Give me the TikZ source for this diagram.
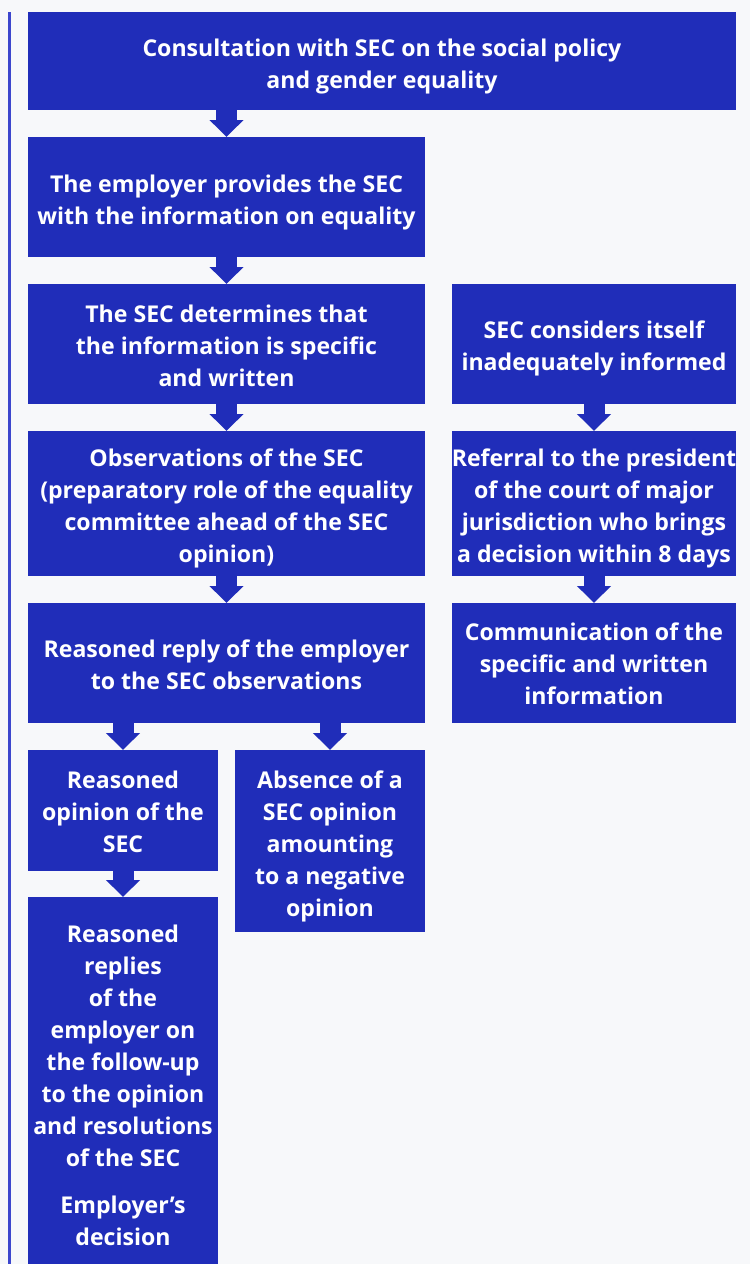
\documentclass[tikz,border=0pt]{standalone}
\usepackage{fontspec}
\setmainfont{Open Sans}
\usetikzlibrary{arrows.meta}
\definecolor{bgc}{RGB}{247,248,250}
\definecolor{boxc}{RGB}{32,45,185}
\definecolor{railc}{RGB}{60,70,205}
\tikzset{
  box/.style={fill=boxc, inner sep=0pt, outer sep=0pt},
  txt/.style={text=white, align=center, inner sep=0pt,
    font=\bfseries\fontsize{23.1}{32}\selectfont},
  flow/.style={draw=boxc, line width=21pt,
    -{Triangle[width=33pt,length=17pt]}}
}
\begin{document}
\begin{tikzpicture}[x=1pt,y=-1pt]
\fill[bgc] (0,0) rectangle (750,1264);
\useasboundingbox (0,0) rectangle (750,1264);
\fill[railc] (8,12) rectangle (11,1264);

\node[box, minimum width=708pt, minimum height=98pt,
  label={[txt,yshift=-5pt]center:{Consultation with SEC on the social policy\\and gender equality}}] (b1) at (382,61) {};
\node[box, minimum width=397pt, minimum height=120pt,
  label={[txt,yshift=-5pt]center:{The employer provides the SEC\\with the information on equality}}] (b2) at (226.5,197) {};
\node[box, minimum width=397pt, minimum height=120pt,
  label={[txt,yshift=-2pt]center:{The SEC determines that\\the information is specific\\and written}}] (b3) at (226.5,344) {};
\node[box, minimum width=284pt, minimum height=120pt,
  label={[txt,yshift=-4pt]center:{SEC considers itself\\inadequately informed}}] (r1) at (594,344) {};
\node[box, minimum width=397pt, minimum height=145pt,
  label={[txt,yshift=-5pt]center:{Observations of the SEC\\(preparatory role of the equality\\committee ahead of the SEC\\opinion)}}] (b4) at (226.5,503.5) {};
\node[box, minimum width=284pt, minimum height=145pt,
  label={[txt,yshift=-5pt]center:{Referral to the president\\of the court of major\\jurisdiction who brings\\a decision within 8 days}}] (r2) at (594,503.5) {};
\node[box, minimum width=397pt, minimum height=120pt,
  label={[txt,yshift=-2pt]center:{Reasoned reply of the employer\\to the SEC observations}}] (b5) at (226.5,663) {};
\node[box, minimum width=284pt, minimum height=120pt,
  label={[txt,yshift=-1pt]center:{Communication of the\\specific and written\\information}}] (r3) at (594,663) {};
\node[box, minimum width=190pt, minimum height=121pt,
  label={[txt,yshift=-1pt]center:{Reasoned\\opinion of the\\SEC}}] (b6a) at (123,810.5) {};
\node[box, minimum width=190pt, minimum height=182pt,
  label={[txt,yshift=-5pt]center:{Absence of a\\SEC opinion\\amounting\\to a negative\\opinion}}] (b6b) at (330,841) {};
\node[box, minimum width=190pt, minimum height=367pt,
  label={[txt,yshift=-5pt]center:{Reasoned\\replies\\of the\\employer on\\the follow-up\\to the opinion\\and resolutions\\of the SEC\\[15pt]Employer’s\\decision}}] (b7) at (123,1080.5) {};

\draw[flow] (b1.south -| b2.north) -- (b2.north);
\draw[flow] (b2.south) -- (b3.north);
\draw[flow] (b3.south) -- (b4.north);
\draw[flow] (b4.south) -- (b5.north);
\draw[flow] (r1.south) -- (r2.north);
\draw[flow] (r2.south) -- (r3.north);
\draw[flow] (b5.south -| b6a.north) -- (b6a.north);
\draw[flow] (b5.south -| b6b.north) -- (b6b.north);
\draw[flow] (b6a.south) -- (b7.north);
\end{tikzpicture}
\end{document}
